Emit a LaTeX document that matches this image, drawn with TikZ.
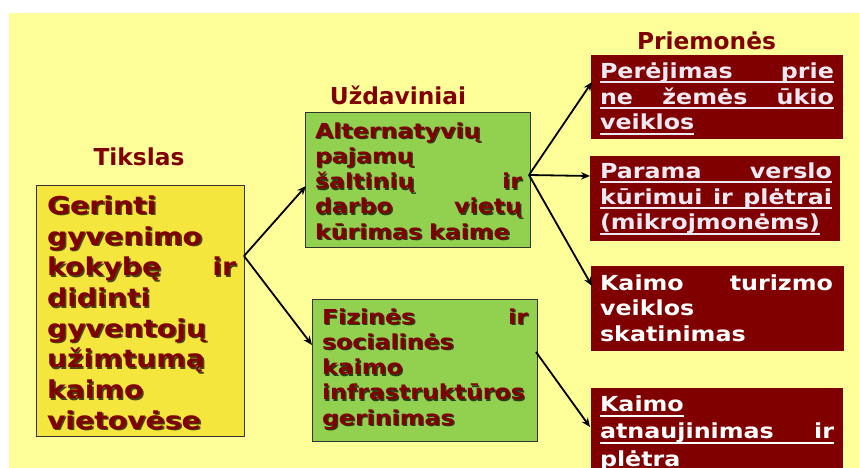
\documentclass[tikz,border=0pt]{standalone}
\usepackage{fontspec}
\usetikzlibrary{arrows.meta,calc}
\newfontfamily\bfont{DejaVu Sans}[FakeStretch=1.15]
\newfontfamily\hfont{DejaVu Sans}
\definecolor{bg}{HTML}{FFFF99}
\definecolor{yfill}{HTML}{F5E63E}
\definecolor{gfill}{HTML}{92D050}
\definecolor{drk}{HTML}{800000}
\definecolor{lav}{HTML}{EEE8F2}
\definecolor{bord}{HTML}{333333}
\newcommand\ytxt{\bfont\bfseries\fontsize{24.6}{30.7}\selectfont}
\newcommand\gtxt{\bfont\bfseries\fontsize{20.6}{25.2}\selectfont}
\newcommand\rtxt{\bfont\bfseries\fontsize{20.7}{25.8}\selectfont}
\newcommand\rtxtb{\bfont\bfseries\fontsize{20.7}{27.2}\selectfont}
\newcommand\htxt{\hfont\bfseries\fontsize{23.3}{28}\selectfont}
\newcommand\uline[1]{\leavevmode\setbox0=\hbox{#1}\rlap{\rule[-5pt]{\wd0}{2.2pt}}\box0}
\newcommand\just[1]{\makebox[\linewidth]{#1}}
\newcommand\goaltext{Gerinti\\ gyvenimo\\ kokybę\hfill ir\\ didinti\\ gyventojų\\ užimtumą\\ kaimo\\ vietovėse}
\newcommand\taskAtext{Alternatyvių\\ pajamų\\ šaltinių\hfill ir\\ darbo\hfill vietų\\ kūrimas kaime}
\newcommand\taskBtext{Fizinės\hfill ir\\ socialinės\\ kaimo\\ infrastruktūros\\ gerinimas}
\begin{document}
\begin{tikzpicture}[x=1pt,y=-1pt,
  box/.style={anchor=north west, inner sep=0pt, outer sep=0pt},
  ybox/.style={box, fill=yfill, draw=bord, line width=1pt},
  gbox/.style={box, fill=gfill, draw=bord, line width=1pt},
  rbox/.style={box, fill=drk},
  txt/.style={anchor=north west, inner sep=0pt, outer sep=0pt, text width=#1, align=left, text height=0pt},
  shad/.style={text=black, text opacity=0.7},
  head/.style={anchor=base, inner sep=0pt, text=drk, font=\htxt},
  arr/.style={line width=1.8pt, draw=black, -{Stealth[length=9pt,width=7.5pt]}}]
\clip (0,0) rectangle (859,468);
\fill[white] (0,0) rectangle (859,468);
\fill[bg] (9,13) rectangle (859,468);
% headings
\node[head] (hgoal) at (139,165.7) {Tikslas};
\node[head] (htask) at (398,105) {Uždaviniai};
\node[head] (hmeas) at (706.5,49.3) {Priemonės};
% boxes
\node[ybox, minimum width=208pt, minimum height=251pt] (goal) at (36,185) {};
\node[gbox, minimum width=225pt, minimum height=134pt] (t1) at (305,113) {};
\node[gbox, minimum width=225pt, minimum height=142pt] (t2) at (312,299) {};
\node[rbox, minimum width=252pt, minimum height=84pt] (m1) at (591,55) {};
\node[rbox, minimum width=250pt, minimum height=85pt] (m2) at (590,156) {};
\node[rbox, minimum width=253pt, minimum height=85pt] (m3) at (591,266) {};
\node[rbox, minimum width=252pt, minimum height=95pt] (m4) at (591,388) {};
% texts with shadow
\node[txt=189pt, shad, font=\ytxt] (goalS) at (48.6,215.9) {\goaltext};
\node[txt=189pt, text=drk, font=\ytxt] (goalT) at (47,214.3) {\goaltext};
\node[txt=207pt, shad, font=\gtxt] (t1S) at (316.4,139.7) {\taskAtext};
\node[txt=207pt, text=drk, font=\gtxt] (t1T) at (315,138.3) {\taskAtext};
\node[txt=206pt, shad, font=\gtxt] (t2S) at (323.4,325.7) {\taskBtext};
\node[txt=206pt, text=drk, font=\gtxt] (t2T) at (322,324.3) {\taskBtext};
% measure texts
\node[txt=234pt, text=lav, font=\rtxt] (m1T) at (600,78.3)
  {\uline{\just{Perėjimas\hfill prie}}\\ \uline{\just{ne\hfill žemės\hfill ūkio}}\\ \uline{veiklos}};
\node[txt=232pt, text=lav, font=\rtxt] (m2T) at (600,178.3)
  {\uline{\just{Parama\hfill verslo}}\\ \uline{\just{kūrimui\hfill ir\hfill plėtrai}}\\ \uline{(mikrojmonėms)}};
\node[txt=233pt, text=white, font=\rtxt] (m3T) at (600,290)
  {Kaimo\hfill turizmo\\ veiklos\\ skatinimas};
\node[txt=234pt, text=white, font=\rtxtb] (m4T) at (600,411.7)
  {\uline{Kaimo}\\ \uline{\just{atnaujinimas\hfill ir}}\\ \uline{plėtra}};
% connector ends
\coordinate (gOut) at ($(goal.north east)+(0,71)$);
\coordinate (t1In) at ($(t1.north west)+(1,73)$);
\coordinate (t2In) at ($(t2.north west)+(0,46)$);
\coordinate (t1Out) at ($(t1.north east)+(-1,62)$);
\coordinate (t2Out) at ($(t2.north east)+(-1,53)$);
\coordinate (m1In) at ($(m1.north west)+(1,27)$);
\coordinate (m2In) at ($(m2.north west)+(0,20)$);
\coordinate (m3In) at ($(m3.north west)+(1,20)$);
\coordinate (m4In) at ($(m4.north west)+(-1,39)$);
\draw[arr] (gOut) -- (t1In);
\draw[arr] (gOut) -- (t2In);
\draw[arr] (t1Out) -- (m1In);
\draw[arr] (t1Out) -- (m2In);
\draw[arr] (t1Out) -- (m3In);
\draw[arr] (t2Out) -- (m4In);
\end{tikzpicture}
\end{document}
